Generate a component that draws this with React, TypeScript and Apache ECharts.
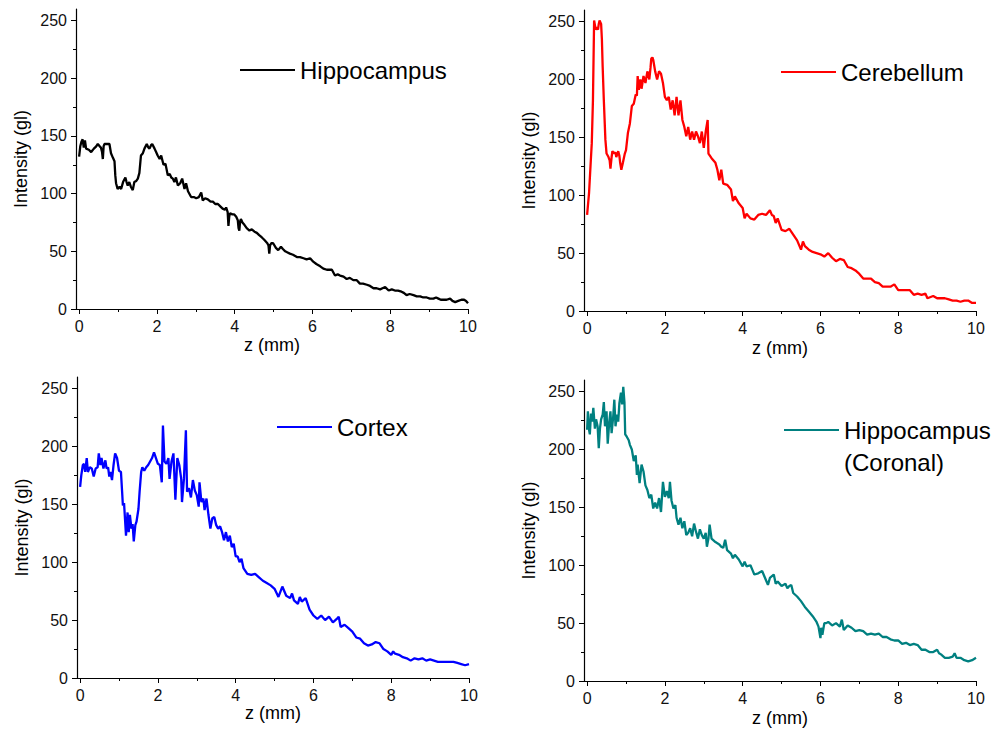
import React, { useEffect, useRef } from "react";
import * as echarts from "echarts";

const zTicks = [0, 2, 4, 6, 8, 10];
const intensityTicks = [0, 50, 100, 150, 200, 250];

const seriesNames = ["Hippocampus", "Cerebellum", "Cortex", "Hippocampus (Coronal)"];
const seriesColors = ["#000000", "#ff0000", "#0000ff", "#008080"];

const hippocampus: [number, number][] = [
  [0, 132], [0.03, 141], [0.06, 145], [0.09, 147], [0.12, 140], [0.15, 146], [0.18, 139], [0.25, 138], [0.31, 136],
  [0.38, 139], [0.44, 141], [0.48, 143], [0.53, 141], [0.56, 140], [0.59, 136], [0.61, 130], [0.63, 141], [0.65, 143],
  [0.72, 143], [0.78, 143], [0.82, 135], [0.87, 131], [0.91, 128], [0.93, 116], [0.95, 109], [0.99, 104], [1.04, 106],
  [1.08, 104], [1.13, 110], [1.19, 114], [1.22, 110], [1.25, 107], [1.29, 110], [1.33, 106], [1.38, 103], [1.42, 110],
  [1.47, 111], [1.51, 113], [1.55, 118], [1.59, 133], [1.64, 135], [1.68, 139], [1.74, 143], [1.78, 140], [1.81, 139],
  [1.85, 142], [1.88, 143], [1.94, 139], [1.98, 136], [2.02, 133], [2.07, 130], [2.11, 133], [2.17, 125], [2.22, 126],
  [2.28, 116], [2.33, 117], [2.37, 114], [2.41, 113], [2.45, 110], [2.49, 114], [2.54, 107], [2.6, 109], [2.65, 113],
  [2.71, 104], [2.75, 109], [2.8, 102], [2.88, 97], [2.95, 97], [3.01, 96], [3.08, 97], [3.14, 101], [3.18, 94],
  [3.24, 96], [3.31, 95], [3.38, 93], [3.44, 93], [3.5, 91], [3.57, 91], [3.63, 89], [3.69, 87], [3.75, 86], [3.78, 88],
  [3.82, 84], [3.84, 72], [3.86, 80], [3.88, 83], [3.94, 82], [3.99, 82], [4.04, 80], [4.08, 77], [4.1, 70], [4.12, 68],
  [4.14, 76], [4.16, 78], [4.2, 75], [4.25, 73], [4.31, 70], [4.38, 68], [4.44, 69], [4.51, 67], [4.57, 66], [4.63, 64],
  [4.7, 62], [4.76, 60], [4.84, 57], [4.87, 55], [4.89, 48], [4.91, 55], [4.94, 57], [4.99, 57], [5.06, 53], [5.12, 51],
  [5.19, 54], [5.24, 52], [5.3, 50], [5.36, 49], [5.42, 48], [5.5, 47], [5.6, 45], [5.68, 45], [5.77, 44], [5.85, 43],
  [5.94, 44], [6.02, 41], [6.1, 39], [6.2, 37], [6.28, 35], [6.37, 34], [6.5, 34], [6.58, 29], [6.65, 30], [6.71, 29],
  [6.8, 28], [6.88, 26], [6.96, 27], [7.05, 25], [7.14, 25], [7.22, 22], [7.3, 22], [7.4, 21], [7.48, 20], [7.57, 18],
  [7.65, 18], [7.74, 17], [7.8, 18], [7.87, 19], [7.96, 16], [8.04, 17], [8.12, 16], [8.2, 16], [8.29, 15], [8.35, 14],
  [8.42, 12], [8.5, 13], [8.6, 12], [8.68, 11], [8.77, 11], [8.85, 10], [8.94, 10], [9.02, 9], [9.11, 9], [9.18, 10],
  [9.24, 9], [9.3, 8], [9.37, 8], [9.45, 8], [9.54, 9], [9.6, 7], [9.67, 6], [9.75, 7], [9.83, 8], [9.9, 8], [9.95, 7],
  [10, 5],
];

const cerebellum: [number, number][] = [
  [0, 83], [0.05, 102], [0.1, 133], [0.12, 145], [0.15, 182], [0.18, 251], [0.2, 247], [0.22, 243], [0.25, 245],
  [0.28, 243], [0.3, 248], [0.32, 251], [0.36, 248], [0.38, 235], [0.4, 211], [0.43, 182], [0.47, 148], [0.5, 136],
  [0.55, 133], [0.58, 130], [0.6, 123], [0.63, 133], [0.65, 138], [0.7, 136], [0.73, 137], [0.75, 133], [0.8, 138],
  [0.83, 134], [0.85, 128], [0.88, 122], [0.92, 128], [0.97, 136], [1.0, 139], [1.05, 154], [1.1, 162], [1.15, 177],
  [1.2, 179], [1.25, 187], [1.28, 186], [1.3, 203], [1.33, 191], [1.37, 200], [1.4, 192], [1.45, 203], [1.5, 197],
  [1.55, 207], [1.6, 200], [1.63, 210], [1.65, 218], [1.68, 219], [1.7, 217], [1.75, 207], [1.8, 200], [1.85, 207],
  [1.9, 205], [1.95, 197], [2.0, 185], [2.05, 182], [2.1, 185], [2.15, 174], [2.2, 182], [2.25, 169], [2.3, 185],
  [2.35, 169], [2.4, 182], [2.45, 165], [2.5, 159], [2.55, 151], [2.6, 159], [2.65, 148], [2.7, 155], [2.75, 148],
  [2.8, 155], [2.85, 151], [2.9, 145], [2.95, 155], [3.0, 141], [3.05, 155], [3.1, 165], [3.12, 136], [3.2, 132],
  [3.3, 128], [3.35, 122], [3.4, 113], [3.45, 122], [3.5, 110], [3.6, 109], [3.7, 105], [3.75, 95], [3.8, 99],
  [3.9, 93], [4.0, 89], [4.05, 80], [4.1, 84], [4.2, 80], [4.3, 79], [4.4, 83], [4.5, 84], [4.6, 83], [4.7, 87],
  [4.75, 83], [4.8, 82], [4.85, 76], [4.9, 80], [5.0, 70], [5.1, 69], [5.2, 71], [5.3, 66], [5.4, 61], [5.5, 53],
  [5.55, 60], [5.6, 56], [5.7, 53], [5.8, 51], [5.9, 50], [6.0, 49], [6.1, 47], [6.2, 50], [6.3, 46], [6.4, 43],
  [6.5, 45], [6.6, 44], [6.7, 38], [6.8, 37], [6.9, 35], [7.0, 32], [7.1, 28], [7.2, 28], [7.3, 28], [7.4, 25],
  [7.5, 24], [7.6, 21], [7.7, 21], [7.8, 21], [7.9, 23], [8.0, 18], [8.1, 18], [8.2, 18], [8.3, 18], [8.4, 14],
  [8.5, 15], [8.6, 14], [8.7, 15], [8.75, 11], [8.9, 13], [9.0, 11], [9.1, 11], [9.2, 11], [9.3, 10], [9.4, 9],
  [9.5, 9], [9.6, 8], [9.7, 9], [9.8, 9], [9.9, 7], [10, 7],
];

const cortex: [number, number][] = [
  [0, 165], [0.03, 175], [0.07, 184], [0.1, 185], [0.13, 178], [0.17, 190], [0.2, 178], [0.25, 182], [0.3, 181],
  [0.35, 174], [0.4, 181], [0.45, 182], [0.48, 194], [0.52, 184], [0.55, 190], [0.6, 181], [0.65, 188], [0.68, 181],
  [0.72, 182], [0.75, 174], [0.78, 178], [0.82, 171], [0.86, 184], [0.9, 194], [0.95, 190], [1.0, 179], [1.05, 178],
  [1.08, 161], [1.1, 149], [1.13, 151], [1.18, 123], [1.22, 143], [1.25, 126], [1.28, 141], [1.32, 129], [1.35, 133],
  [1.38, 118], [1.42, 132], [1.45, 135], [1.5, 146], [1.53, 161], [1.57, 178], [1.6, 182], [1.65, 179], [1.7, 182],
  [1.75, 184], [1.8, 187], [1.85, 190], [1.9, 195], [1.95, 190], [2.0, 185], [2.05, 184], [2.1, 169], [2.13, 218],
  [2.17, 187], [2.22, 185], [2.27, 190], [2.3, 172], [2.35, 187], [2.4, 194], [2.45, 154], [2.5, 190], [2.55, 184],
  [2.6, 172], [2.62, 152], [2.67, 172], [2.72, 214], [2.75, 161], [2.8, 164], [2.85, 156], [2.9, 171], [2.95, 162],
  [3.0, 158], [3.05, 148], [3.07, 169], [3.12, 152], [3.17, 155], [3.2, 145], [3.25, 155], [3.3, 141], [3.35, 129],
  [3.4, 138], [3.45, 139], [3.5, 132], [3.55, 129], [3.6, 131], [3.65, 126], [3.7, 119], [3.75, 126], [3.8, 118],
  [3.85, 123], [3.9, 113], [3.95, 116], [4.0, 105], [4.05, 105], [4.1, 100], [4.15, 103], [4.2, 95], [4.3, 90],
  [4.4, 89], [4.5, 90], [4.6, 87], [4.7, 84], [4.8, 82], [4.9, 80], [5.0, 77], [5.1, 70], [5.2, 79], [5.3, 71],
  [5.4, 69], [5.45, 73], [5.5, 67], [5.6, 64], [5.65, 70], [5.7, 66], [5.8, 69], [5.9, 59], [6.0, 54], [6.1, 51],
  [6.2, 54], [6.3, 50], [6.4, 53], [6.5, 48], [6.6, 51], [6.65, 53], [6.7, 44], [6.8, 46], [6.9, 43], [7.0, 40],
  [7.1, 35], [7.2, 34], [7.3, 30], [7.4, 28], [7.5, 29], [7.6, 31], [7.7, 30], [7.8, 25], [7.9, 23], [8.0, 20],
  [8.05, 23], [8.1, 21], [8.2, 20], [8.3, 18], [8.4, 17], [8.5, 15], [8.6, 17], [8.7, 16], [8.8, 17], [8.9, 15],
  [9.0, 16], [9.1, 15], [9.2, 14], [9.3, 14], [9.4, 14], [9.5, 14], [9.6, 14], [9.7, 13], [9.8, 12], [9.9, 11],
  [10, 12],
];

const coronal: [number, number][] = [
  [0, 217], [0.02, 233], [0.05, 217], [0.07, 213], [0.1, 231], [0.13, 224], [0.16, 236], [0.2, 218], [0.23, 226],
  [0.27, 220], [0.3, 201], [0.33, 218], [0.36, 226], [0.4, 230], [0.43, 241], [0.46, 220], [0.5, 233], [0.53, 205],
  [0.57, 224], [0.6, 233], [0.63, 214], [0.67, 228], [0.7, 243], [0.73, 220], [0.77, 230], [0.8, 224], [0.83, 240],
  [0.87, 249], [0.9, 239], [0.93, 254], [0.96, 241], [0.98, 213], [1.02, 211], [1.07, 208], [1.1, 204], [1.15, 200],
  [1.2, 190], [1.25, 195], [1.28, 178], [1.3, 187], [1.35, 171], [1.4, 187], [1.45, 181], [1.5, 169], [1.55, 165],
  [1.6, 158], [1.65, 161], [1.7, 149], [1.75, 154], [1.8, 149], [1.85, 158], [1.9, 146], [1.95, 172], [2.0, 159],
  [2.05, 164], [2.1, 158], [2.13, 172], [2.17, 156], [2.22, 149], [2.27, 152], [2.3, 141], [2.35, 135], [2.4, 141],
  [2.45, 132], [2.5, 138], [2.55, 126], [2.6, 128], [2.65, 132], [2.7, 125], [2.75, 136], [2.8, 129], [2.85, 123],
  [2.9, 131], [2.95, 126], [3.0, 123], [3.05, 128], [3.08, 116], [3.12, 123], [3.15, 135], [3.2, 123], [3.3, 120],
  [3.4, 118], [3.45, 116], [3.5, 115], [3.55, 122], [3.6, 113], [3.7, 110], [3.75, 106], [3.8, 109], [3.9, 105],
  [4.0, 99], [4.05, 103], [4.1, 99], [4.2, 100], [4.25, 96], [4.3, 92], [4.4, 93], [4.5, 95], [4.6, 87], [4.65, 83],
  [4.7, 89], [4.8, 92], [4.85, 84], [4.9, 86], [5.0, 82], [5.1, 84], [5.15, 80], [5.2, 82], [5.25, 83], [5.3, 76],
  [5.4, 73], [5.5, 69], [5.6, 64], [5.7, 60], [5.8, 56], [5.9, 51], [5.95, 47], [6.0, 37], [6.02, 46], [6.05, 40],
  [6.1, 50], [6.15, 50], [6.2, 51], [6.3, 48], [6.4, 50], [6.5, 47], [6.55, 53], [6.6, 44], [6.7, 48], [6.8, 46],
  [6.9, 43], [7.0, 44], [7.1, 43], [7.2, 40], [7.3, 41], [7.4, 40], [7.5, 41], [7.6, 38], [7.7, 38], [7.8, 36],
  [7.9, 35], [8.0, 35], [8.1, 32], [8.2, 33], [8.3, 31], [8.4, 32], [8.5, 31], [8.6, 27], [8.7, 27], [8.8, 25],
  [8.9, 25], [9.0, 27], [9.05, 24], [9.1, 23], [9.2, 20], [9.3, 20], [9.4, 21], [9.45, 24], [9.5, 20], [9.6, 20],
  [9.7, 18], [9.8, 17], [9.9, 18], [10, 20],
];

const seriesData = [hippocampus, cerebellum, cortex, coronal];

const FONT = "'Liberation Sans', Arial, Helvetica, sans-serif";

// layout (pixels)
const gridBoxes = [
  { left: 76, top: 9, width: 392, height: 300 },
  { left: 584, top: 10, width: 392, height: 301 },
  { left: 77, top: 377, width: 392, height: 301 },
  { left: 584, top: 380, width: 392, height: 301 },
];
const xNameGaps = [27, 28, 21, 28];
const legendBoxes = [
  { left: 240, top: 58 },
  { left: 781, top: 60 },
  { left: 277, top: 415 },
  { left: 784, top: 382 },
];

export default function App() {
  const ref = useRef<HTMLDivElement>(null);

  useEffect(() => {
    if (!ref.current) return;
    const chart = echarts.init(ref.current, null, { renderer: "svg" });

    const grid = gridBoxes.map((g) => ({ ...g, containLabel: false, outerBoundsMode: "none" }));

    const xAxis = gridBoxes.map((_, i) => ({
      type: "value",
      gridIndex: i,
      min: -0.08,
      max: 10,
      splitNumber: 5,
      name: "z (mm)",
      nameLocation: "middle",
      nameGap: xNameGaps[i],
      nameTextStyle: { fontSize: 18, color: "#000", fontFamily: FONT },
      axisLine: { show: true, onZero: false, lineStyle: { color: "#000", width: 1.2 } },
      axisTick: { show: true, length: 5, inside: false, customValues: zTicks, lineStyle: { color: "#000", width: 1 } },
      minorTick: { show: true, splitNumber: 2, length: 3, lineStyle: { color: "#000", width: 1 } },
      axisLabel: { show: true, customValues: zTicks, margin: 9, fontSize: 16, color: "#111", fontFamily: FONT },
      splitLine: { show: false },
      minorSplitLine: { show: false },
    }));

    const yAxis = gridBoxes.map((_, i) => ({
      type: "value",
      gridIndex: i,
      min: 0,
      max: 260,
      interval: 50,
      name: "Intensity (gl)",
      nameLocation: "middle",
      nameGap: 46,
      nameTextStyle: { fontSize: 18, color: "#000", fontFamily: FONT },
      axisLine: { show: true, onZero: false, lineStyle: { color: "#000", width: 1.2 } },
      axisTick: { show: true, length: 5, inside: false, customValues: intensityTicks, lineStyle: { color: "#000", width: 1 } },
      minorTick: { show: true, splitNumber: 2, length: 3, lineStyle: { color: "#000", width: 1 } },
      axisLabel: { show: true, customValues: intensityTicks, margin: 9, fontSize: 16, color: "#111", fontFamily: FONT },
      splitLine: { show: false },
      minorSplitLine: { show: false },
    }));

    const series = seriesData.map((d, i) => ({
      type: "line",
      name: seriesNames[i],
      xAxisIndex: i,
      yAxisIndex: i,
      data: d,
      showSymbol: false,
      symbol: "none",
      color: seriesColors[i],
      lineStyle: { color: seriesColors[i], width: 2.3 },
      emphasis: { disabled: true },
      silent: true,
    }));

    const legend = legendBoxes.map((l, i) => {
      const twoLine = i === 3;
      return {
        left: l.left,
        top: l.top,
        padding: 0,
        orient: "horizontal",
        selectedMode: false,
        itemWidth: 55,
        itemHeight: 2,
        itemGap: 0,
        data: [{ name: seriesNames[i], icon: "rect" }],
        // leading empty line keeps the legend line level with "Hippocampus"
        formatter: twoLine ? () => "\nHippocampus\n(Coronal)" : undefined,
        textStyle: {
          fontSize: 24,
          color: "#000",
          fontFamily: FONT,
          lineHeight: twoLine ? 32 : 24,
        },
      };
    });

    chart.setOption({
      animation: false,
      backgroundColor: "#ffffff",
      grid,
      xAxis,
      yAxis,
      legend,
      series,
    } as any);

    return () => {
      chart.dispose();
    };
  }, []);

  return (
    <div
      ref={ref}
      style={{ position: "absolute", left: 0, top: 0, width: 998, height: 730, background: "#fff" }}
    />
  );
}
